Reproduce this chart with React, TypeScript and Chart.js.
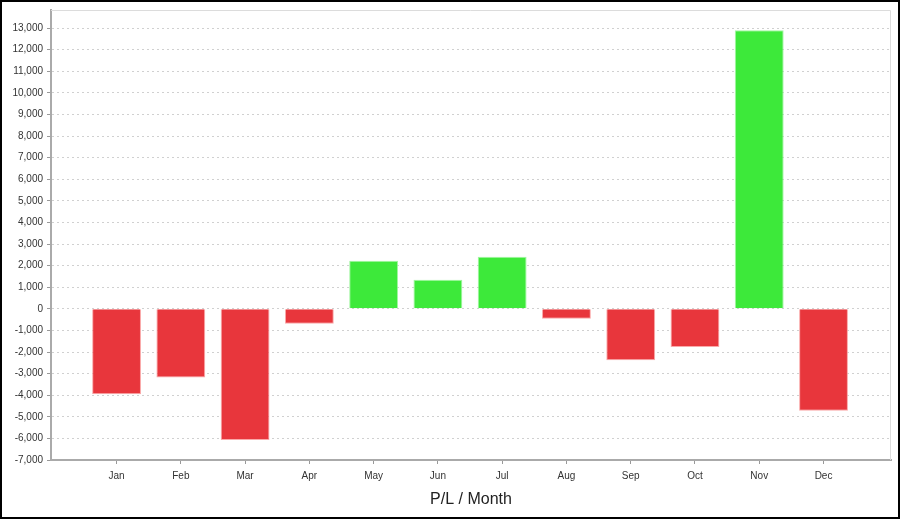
import React, { useEffect, useRef } from "react";
import { Chart, registerables } from "chart.js";

Chart.register(...registerables);

const months = ["Jan", "Feb", "Mar", "Apr", "May", "Jun", "Jul", "Aug", "Sep", "Oct", "Nov", "Dec"];
const profitLoss = [-3960, -3180, -6070, -690, 2230, 1350, 2410, -460, -2380, -1770, 12900, -4720];
const yTickValues = [-7000, -6000, -5000, -4000, -3000, -2000, -1000, 0, 1000, 2000, 3000, 4000, 5000, 6000, 7000, 8000, 9000, 10000, 11000, 12000, 13000];
const xAxisTitle = "P/L / Month";

const RED = "rgb(232,54,60)";
const GREEN = "rgb(61,233,58)";
const FONT = "'Liberation Sans', Arial, sans-serif";

export default function App() {
  const ref = useRef<HTMLCanvasElement | null>(null);

  useEffect(() => {
    document.body.style.margin = "0";
    const canvas = ref.current;
    if (!canvas) return;

    const framePlugin = {
      id: "frame",
      beforeDatasetsDraw(chart: any) {
        const { ctx, chartArea } = chart;
        ctx.save();
        ctx.strokeStyle = "#dcdcdc";
        ctx.lineWidth = 1;
        ctx.beginPath();
        ctx.moveTo(chartArea.left, chartArea.top + 0.5);
        ctx.lineTo(chartArea.right - 0.5, chartArea.top + 0.5);
        ctx.lineTo(chartArea.right - 0.5, chartArea.bottom);
        ctx.stroke();
        ctx.restore();
      },
      afterDraw(chart: any) {
        const { ctx, chartArea } = chart;
        ctx.save();
        ctx.fillStyle = "#222";
        ctx.font = `16px ${FONT}`;
        ctx.textAlign = "center";
        ctx.textBaseline = "middle";
        ctx.fillText(xAxisTitle, (chartArea.left + chartArea.right) / 2, 500);
        ctx.restore();
      },
    };

    const chart = new Chart(canvas, {
      type: "bar",
      data: {
        datasets: [
          {
            data: profitLoss.map((v, i) => ({ x: i, y: v })),
            backgroundColor: profitLoss.map((v) => (v >= 0 ? GREEN : RED)),
            borderColor: profitLoss.map((v) => (v >= 0 ? "rgba(150,245,150,0.9)" : "rgba(250,160,160,0.9)")),
            borderWidth: 1,
            borderSkipped: "start",
            barPercentage: 0.76,
            categoryPercentage: 1,
          },
        ],
      },
      options: {
        animation: false,
        responsive: true,
        maintainAspectRatio: false,
        layout: { padding: { left: 0, right: 9, top: 8, bottom: 0 } },
        plugins: { legend: { display: false }, tooltip: { enabled: false }, title: { display: false } },
        scales: {
          x: {
            type: "linear",
            min: -1.02,
            max: 12.05,
            offset: false,
            afterBuildTicks: (scale: any) => {
              scale.ticks = months.map((_, i) => ({ value: i }));
            },
            afterFit: (scale: any) => {
              scale.height = 59;
            },
            ticks: {
              autoSkip: false,
              maxRotation: 0,
              padding: 6,
              color: "#333",
              font: { family: FONT, size: 10 },
              callback: (v: any) => months[Math.round(Number(v))] ?? "",
            },
            grid: { display: true, offset: false, drawOnChartArea: false, drawTicks: true, tickLength: 4, tickColor: "#999" },
            border: { display: true, color: "#aaa", width: 2 },
          },
          y: {
            type: "linear",
            min: -7000,
            max: 13840,
            afterBuildTicks: (scale: any) => {
              scale.ticks = yTickValues.map((v) => ({ value: v }));
            },
            afterFit: (scale: any) => {
              scale.width = 51;
            },
            ticks: {
              padding: 4,
              color: "#333",
              font: { family: FONT, size: 10 },
              callback: (v: any) => Number(v).toLocaleString("en-US"),
            },
            grid: {
              color: "#d0d0d0",
              lineWidth: 1,
              tickLength: 4,
              tickColor: "#999",
              tickBorderDash: [],
            },
            border: { display: true, color: "#aaa", width: 2, dash: [2, 3] },
          },
        },
      },
      plugins: [framePlugin],
    });

    return () => chart.destroy();
  }, []);

  return (
    <div style={{ position: "fixed", left: 0, top: 0, width: 900, height: 519, background: "#fff" }}>
      <div
        style={{
          position: "absolute",
          left: 0,
          top: 0,
          width: 900,
          height: 519,
          border: "2px solid #000",
          boxSizing: "border-box",
          pointerEvents: "none",
        }}
      />
      <div style={{ position: "absolute", left: 0, top: 0, width: 900, height: 519 }}>
        <canvas ref={ref} />
      </div>
    </div>
  );
}
